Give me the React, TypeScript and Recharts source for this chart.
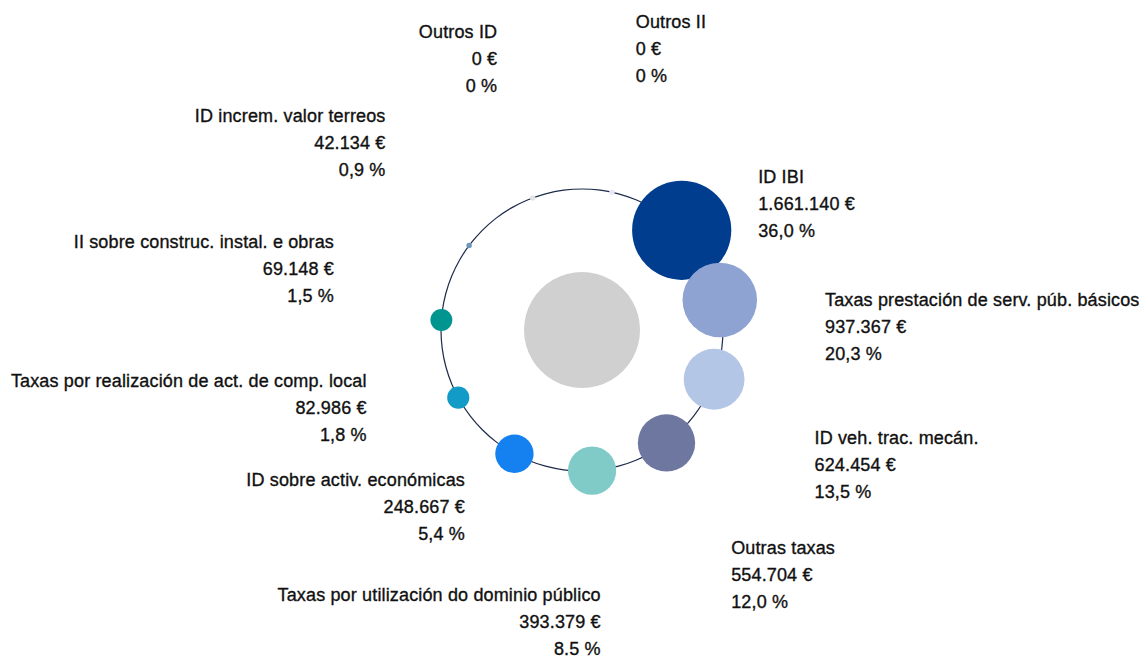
import { PieChart, Pie } from "recharts"

const categories = [
  "ID IBI",
  "Taxas prestación de serv. púb. básicos",
  "ID veh. trac. mecán.",
  "Outras taxas",
  "Taxas por utilización do dominio público",
  "ID sobre activ. económicas",
  "Taxas por realización de act. de comp. local",
  "II sobre construc. instal. e obras",
  "ID increm. valor terreos",
  "Outros ID",
  "Outros II",
]
const amounts = [1661140, 937367, 624454, 554704, 393379, 248667, 82986, 69148, 42134, 0, 0]
const shares = ["36,0 %", "20,3 %", "13,5 %", "12,0 %", "8.5 %", "5,4 %", "1,8 %", "1,5 %", "0,9 %", "0 %", "0 %"]
// bubble sizes as drawn in the picture (the terreos bubble is drawn at minimum size)
const bubbleAmounts = [1661140, 937367, 624454, 554704, 393379, 248667, 82986, 81000, 5000, 0, 0]

const colors = [
  "#003d8f", "#8fa3d3", "#b3c6e6", "#6e77a0", "#80cbc7", "#1581f0",
  "#139bc8", "#00958e", "#6f97b8", "#e3e3e6", "#e7e9fb",
]

// label anchor: distance from the centre and angle shift from the bubble angle
const labelPlacement = [
  { r: 213, shift: -10.8 },
  { r: 243, shift: -12.9 },
  { r: 272, shift: -10.8 },
  { r: 292, shift: -6.1 },
  { r: 299, shift: -0.5 },
  { r: 217, shift: -4.0 },
  { r: 231, shift: -7.4 },
  { r: 254, shift: -8.4 },
  { r: 267, shift: -5.8 },
  { r: 278, shift: -2.7 },
  { r: 280, shift: 1.2 },
]

const slots = categories.map((name) => ({ name, slot: 1 }))
const whole = [{ name: "total", v: 1 }]

const RING_R = 141
const SCALE = 0.03848
const MIN_R = 2.7
const LINE = 27
const RAD = Math.PI / 180
const STEP = 360 / categories.length
const START = 45 + STEP / 2

const polar = (cx: number, cy: number, r: number, angle: number) => ({
  x: cx + r * Math.cos(-angle * RAD),
  y: cy + r * Math.sin(-angle * RAD),
})

const formatEuro = (v: number) => String(v).replace(/\B(?=(\d{3})+(?!\d))/g, ".") + " €"

const textStyle = {
  fontFamily: "'Liberation Sans', Arial, sans-serif",
  fontSize: 18,
  fill: "#111",
  stroke: "#111",
  strokeWidth: 0.35,
  letterSpacing: 0.15,
}

const renderBubble = (props: any) => {
  const { cx, cy, midAngle, index } = props
  const p = polar(cx, cy, RING_R, midAngle)
  const r = Math.max(MIN_R, SCALE * Math.sqrt(bubbleAmounts[index]))
  const lp = labelPlacement[index]
  const a = polar(cx, cy, lp.r, midAngle + lp.shift)
  const anchor = Math.cos(midAngle * RAD) < 0.1 ? "end" : "start"
  return (
    <g key={`b-${index}`}>
      <circle cx={p.x} cy={p.y} r={r} fill={colors[index]} />
      <text x={a.x} y={a.y - LINE} textAnchor={anchor} {...textStyle}>{categories[index]}</text>
      <text x={a.x} y={a.y} textAnchor={anchor} {...textStyle}>{formatEuro(amounts[index])}</text>
      <text x={a.x} y={a.y + LINE} textAnchor={anchor} {...textStyle}>{shares[index]}</text>
    </g>
  )
}

export default function App() {
  return (
    <div style={{ position: "absolute", left: 0, top: 0 }}>
      <PieChart width={1139} height={657} margin={{ top: 0, right: 0, bottom: 0, left: 0 }}>
        <Pie
          data={whole}
          dataKey="v"
          cx={582}
          cy={330}
          innerRadius={RING_R - 0.6}
          outerRadius={RING_R + 0.6}
          startAngle={0}
          endAngle={360}
          fill="#1c2b4a"
          stroke="none"
          isAnimationActive={false}
        />
        <Pie
          data={whole}
          dataKey="v"
          cx={582}
          cy={330}
          outerRadius={58}
          startAngle={0}
          endAngle={360}
          fill="#d0d0d0"
          stroke="none"
          isAnimationActive={false}
        />
        <Pie
          data={slots}
          dataKey="slot"
          cx={582}
          cy={330}
          outerRadius={RING_R}
          startAngle={START}
          endAngle={START - 360}
          fill="transparent"
          stroke="none"
          label={renderBubble}
          labelLine={false}
          isAnimationActive={false}
        />
      </PieChart>
    </div>
  )
}
